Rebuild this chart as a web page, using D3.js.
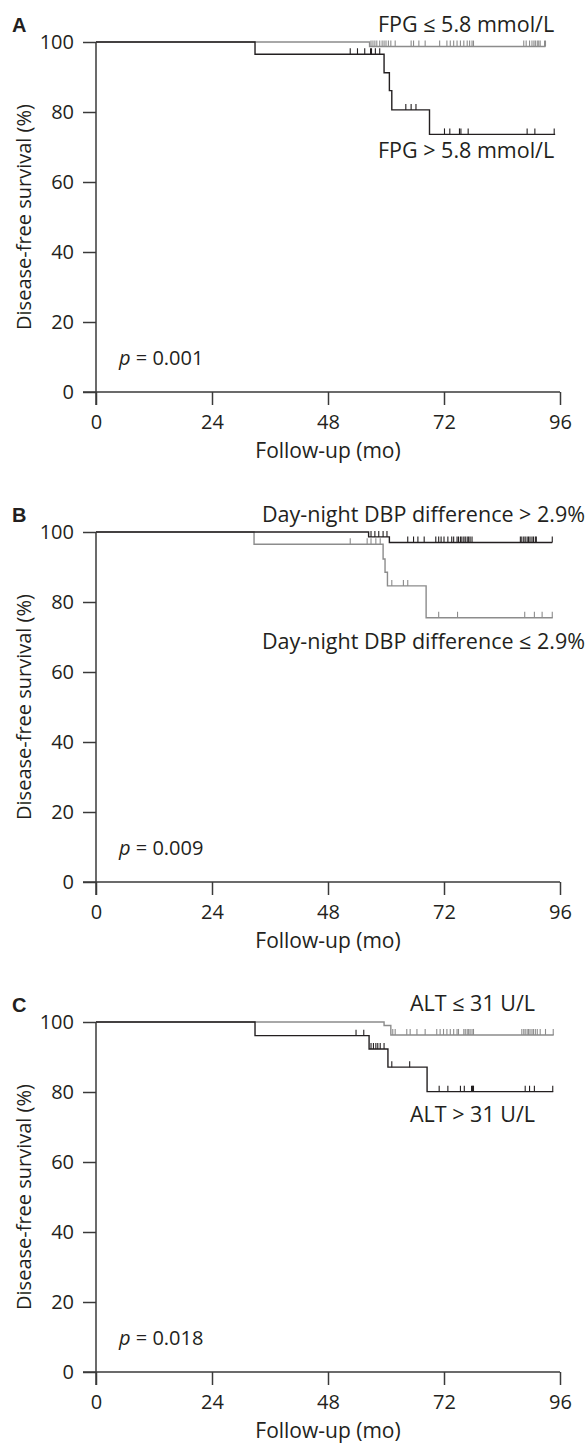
<!DOCTYPE html>
<html>
<head>
<script src="https://d3js.org/d3.v7.min.js"></script>
<style>
  body { margin: 0; background: #fff; }
  text { font-family: "Open Sans", Lato, sans-serif; fill: #231f20; }
</style>
</head>
<body>
<svg id="chart" width="586" height="1445"></svg>
<script>
// axis ticks
const monthTicks = [0, 24, 48, 72, 96];
const survivalTicks = [0, 20, 40, 60, 80, 100];

// panel A: fasting plasma glucose
const aGrayLabel = "FPG \u2264 5.8 mmol/L";
const aGraySteps = [[0, 100], [56.6, 98.7]];
const aGrayEnd = 93.0;
const aGrayCensor = [56.9, 57.3, 57.7, 58.1, 58.7, 59.2, 59.6, 60.0, 60.5, 61.0, 61.9, 65.2, 65.7, 66.8, 68.1,
  71.1, 72.6, 73.3, 74.0, 74.7, 75.4, 76.1, 76.8, 77.3, 77.8, 78.1,
  88.5, 89.0, 89.7, 90.2, 90.6, 90.9, 91.3, 91.6, 91.9, 92.8, 93.0];
const aBlackLabel = "FPG > 5.8 mmol/L";
const aBlackSteps = [[0, 100], [32.9, 96.5], [59.6, 91.2], [60.7, 86.1], [61.2, 80.6], [69.0, 73.6]];
const aBlackEnd = 95.0;
const aBlackCensor = [52.6, 54.1, 55.6, 56.8, 57.0, 57.8, 58.7, 64.1, 65.2, 66.2, 72.1, 73.2, 75.2, 75.5, 77.0,
  89.2, 90.8, 94.8];
const aP = "0.001";

// panel B: day-night DBP difference
const bBlackLabel = "Day-night DBP difference > 2.9%";
const bBlackSteps = [[0, 100], [56.4, 98.6], [60.7, 97.0]];
const bBlackEnd = 94.4;
const bBlackCensor = [56.9, 57.7, 58.5, 59.4, 60.2, 64.5, 65.7, 66.6, 67.9,
  70.3, 70.9, 71.4, 72.0, 72.8, 73.6, 74.0, 74.7, 75.0, 75.4, 75.7, 76.1, 76.4, 76.8, 77.1, 77.4, 77.8,
  87.8, 88.1, 88.5, 88.8, 89.2, 89.5, 89.8, 90.2, 90.5, 90.9, 91.1, 94.4];
const bGrayLabel = "Day-night DBP difference \u2264 2.9%";
const bGraySteps = [[0, 100], [32.7, 96.5], [59.4, 92.3], [59.8, 88.5], [60.3, 84.6], [68.3, 75.5]];
const bGrayEnd = 94.5;
const bGrayCensor = [52.6, 56.1, 56.9, 57.9, 58.8, 61.2, 63.6, 64.5, 70.9, 74.8, 88.7, 90.7, 92.3, 94.4];
const bP = "0.009";

// panel C: ALT
const cGrayLabel = "ALT \u2264 31 U/L";
const cGraySteps = [[0, 100], [59.6, 99.0], [61.0, 96.3]];
const cGrayEnd = 94.7;
const cGrayCensor = [61.4, 61.9, 64.3, 65.0, 66.4, 68.1, 70.5, 71.2, 71.9, 72.6, 73.3, 74.0, 74.7, 75.0,
  76.1, 76.4, 76.8, 77.1, 77.4, 77.8, 78.1,
  88.1, 88.5, 88.8, 89.2, 89.5, 89.8, 90.2, 90.5, 90.9, 91.3, 91.9, 93.0, 94.6];
const cBlackLabel = "ALT > 31 U/L";
const cBlackSteps = [[0, 100], [32.9, 96.1], [56.5, 92.3], [60.4, 87.1], [68.5, 80.1]];
const cBlackEnd = 94.6;
const cBlackCensor = [53.8, 55.4, 56.9, 57.4, 57.9, 58.3, 58.8, 59.6, 61.2, 64.9, 71.0, 72.8, 75.4, 76.2,
  77.7, 77.9, 78.1, 88.8, 89.7, 90.7, 94.5];
const cP = "0.018";

const GRAY = "#8c8c8c", BLACK = "#231f20";
const svg = d3.select("#chart");

const x = d3.scaleLinear().domain([0, 96]).range([96, 560]);

function survAt(steps, t) {
  let s = steps[0][1];
  steps.forEach(d => { if (d[0] <= t) s = d[1]; });
  return s;
}

function drawPanel(top, letter, curves, labels, p) {
  const y = d3.scaleLinear().domain([0, 100]).range([top + 350, top]);
  const g = svg.append("g");

  g.append("text").attr("x", 12).attr("y", top - 10)
    .style("font-family", "'Liberation Sans', sans-serif")
    .style("font-weight", "bold").style("font-size", "20px").text(letter);

  const xAxis = g.append("g").attr("transform", `translate(0,${top + 350})`)
    .call(d3.axisBottom(x).tickValues(monthTicks).tickSize(13).tickPadding(10).tickSizeOuter(0));
  const yAxis = g.append("g").attr("transform", "translate(96,0)")
    .call(d3.axisLeft(y).tickValues(survivalTicks).tickSize(13).tickPadding(9).tickSizeOuter(0));
  [xAxis, yAxis].forEach(a => {
    a.select(".domain").attr("stroke", "#3a3a3a").attr("stroke-width", 1.5);
    a.selectAll(".tick line").attr("stroke", "#3a3a3a").attr("stroke-width", 1.5);
    a.selectAll(".tick text").style("font-family", "'Open Sans', sans-serif").style("font-size", "20px").attr("fill", "#231f20");
  });
  // extend axes to meet tick crossing at origin
  xAxis.select(".domain").attr("d", `M${x(0) - 13},0H${x(96)}`);
  yAxis.select(".domain").attr("d", `M0,${y(0) + 13}V${y(100)}`);

  g.append("text")
    .attr("transform", `translate(31,${top + 175}) rotate(-90)`)
    .attr("text-anchor", "middle").style("font-size", "20px")
    .text("Disease-free survival (%)");

  g.append("text").attr("x", x(48)).attr("y", top + 350 + 66)
    .attr("text-anchor", "middle").style("font-size", "21px")
    .text("Follow-up (mo)");

  const pText = g.append("text").attr("x", 119).attr("y", top + 323).style("font-size", "20px");
  pText.append("tspan").style("font-style", "italic").text("p");
  pText.append("tspan").text(" = " + p);

  const line = d3.line().x(d => x(d[0])).y(d => y(d[1])).curve(d3.curveStepAfter);
  curves.forEach(c => {
    const pts = c.steps.concat([[c.end, c.steps[c.steps.length - 1][1]]]);
    g.append("path").attr("d", line(pts)).attr("fill", "none")
      .attr("stroke", c.color).attr("stroke-width", 1.4);
    g.selectAll(null).data(c.censor).enter().append("line")
      .attr("x1", d => x(d)).attr("x2", d => x(d))
      .attr("y1", d => y(survAt(c.steps, d)))
      .attr("y2", d => y(survAt(c.steps, d)) - 6)
      .attr("stroke", c.color).attr("stroke-width", 1.1);
  });

  labels.forEach(l => {
    g.append("text").attr("x", l.x).attr("y", top + l.dy)
      .style("font-size", "21.5px").text(l.text);
  });
}

drawPanel(42, "A",
  [{steps: aGraySteps, end: aGrayEnd, censor: aGrayCensor, color: GRAY},
   {steps: aBlackSteps, end: aBlackEnd, censor: aBlackCensor, color: BLACK}],
  [{text: aGrayLabel, x: 378, dy: -10}, {text: aBlackLabel, x: 378, dy: 116}], aP);

drawPanel(532, "B",
  [{steps: bGraySteps, end: bGrayEnd, censor: bGrayCensor, color: GRAY},
   {steps: bBlackSteps, end: bBlackEnd, censor: bBlackCensor, color: BLACK}],
  [{text: bBlackLabel, x: 262, dy: -10}, {text: bGrayLabel, x: 262, dy: 117}], bP);

drawPanel(1022, "C",
  [{steps: cGraySteps, end: cGrayEnd, censor: cGrayCensor, color: GRAY},
   {steps: cBlackSteps, end: cBlackEnd, censor: cBlackCensor, color: BLACK}],
  [{text: cGrayLabel, x: 410, dy: -11}, {text: cBlackLabel, x: 410, dy: 100}], cP);
</script>
</body>
</html>
